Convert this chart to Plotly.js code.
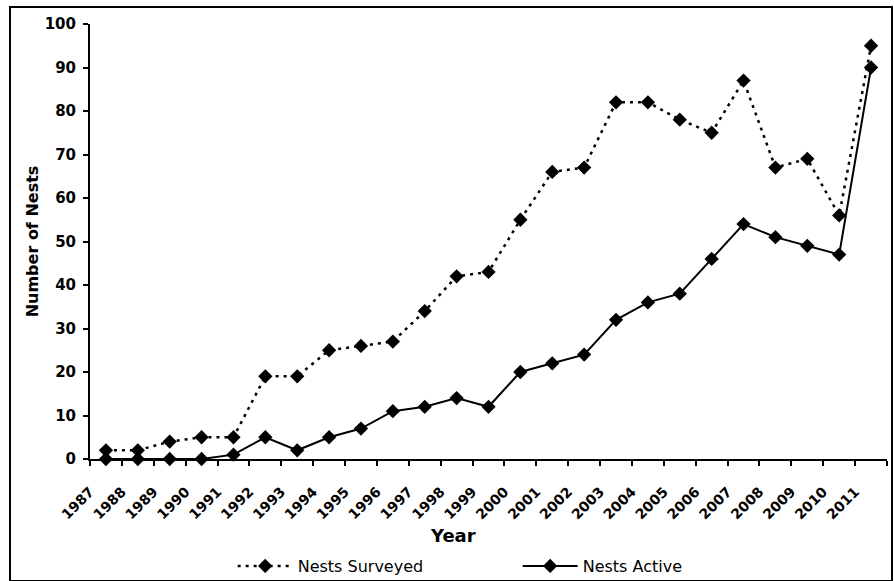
<!DOCTYPE html>
<html>
<head>
<meta charset="utf-8">
<script src="https://cdn.plot.ly/plotly-3.0.1.min.js"></script>
<style>
html,body{margin:0;padding:0;background:#fff;}
#chart{width:894px;height:581px;}
</style>
</head>
<body>
<div id="chart"></div>
<script>
var years = [1987,1988,1989,1990,1991,1992,1993,1994,1995,1996,1997,1998,1999,2000,2001,2002,2003,2004,2005,2006,2007,2008,2009,2010,2011];
var nestsSurveyed = [2,2,4,5,5,19,19,25,26,27,34,42,43,55,66,67,82,82,78,75,87,67,69,56,95];
var nestsActive = [0,0,0,0,1,5,2,5,7,11,12,14,12,20,22,24,32,36,38,46,54,51,49,47,90];
var yTicks = [0,10,20,30,40,50,60,70,80,90,100];

var xRange = [years[0]-0.5, years[years.length-1]+0.5];
var boundaryTicks = years.map(function(y){return y-0.5;}).concat([years[years.length-1]+0.5]);
var labelPos = years.map(function(y){return y-0.5;});
var labelText = years.map(function(y){return String(y);});

var FONT = 'DejaVu Sans, Arial, sans-serif';

var traces = [
  {
    x: years, y: nestsSurveyed, name: 'Nests Surveyed', type: 'scatter', mode: 'lines+markers',
    line: {color: '#000', width: 2.5, dash: '3px,5px'},
    marker: {symbol: 'diamond', size: 11, color: '#000'},
    cliponaxis: false
  },
  {
    x: years, y: nestsActive, name: 'Nests Active', type: 'scatter', mode: 'lines+markers',
    line: {color: '#000', width: 2},
    marker: {symbol: 'diamond', size: 11, color: '#000'},
    cliponaxis: false
  }
];

var layout = {
  width: 894, height: 581,
  margin: {l: 90, r: 7, t: 24, b: 122, autoexpand: false},
  paper_bgcolor: '#fff', plot_bgcolor: '#fff',
  showlegend: true,
  hovermode: false,
  font: {family: FONT, color: '#000'},
  xaxis: {
    type: 'linear', range: xRange, fixedrange: true,
    tickmode: 'array', tickvals: labelPos, ticktext: labelText,
    tickangle: -45, ticks: 'outside', ticklen: 0, tickcolor: 'rgba(0,0,0,0)',
    tickfont: {family: FONT, size: 14, color: '#000', weight: 'bold'},
    ticklabelstandoff: 17,
    minor: {tickmode: 'array', tickvals: boundaryTicks, ticks: 'outside', ticklen: 5, tickwidth: 2, tickcolor: '#000', showgrid: false},
    showline: true, linecolor: '#000', linewidth: 2,
    showgrid: false, zeroline: false
  },
  yaxis: {
    range: [0, 100], fixedrange: true,
    tickmode: 'array', tickvals: yTicks,
    ticks: 'outside', ticklen: 5, tickwidth: 2, tickcolor: '#000',
    showline: true, linecolor: '#000', linewidth: 2,
    showgrid: false, zeroline: false,
    tickfont: {family: FONT, size: 15, color: '#000', weight: 'bold'},
    ticklabelstandoff: 4,
    title: {text: '<b>Number of Nests</b>', font: {family: FONT, size: 16, color: '#000'}, standoff: 2}
  },
  annotations: [
    {text: '<b>Year</b>', xref: 'paper', yref: 'paper', x: (453-90)/797, y: (459-535)/435,
     xanchor: 'center', yanchor: 'middle', showarrow: false,
     font: {family: FONT, size: 18, color: '#000'}}
  ],
  legend: {
    orientation: 'h', x: 0.179, xanchor: 'left', y: (459-566)/435, yanchor: 'middle',
    font: {family: FONT, size: 16, color: '#000'},
    bgcolor: 'rgba(0,0,0,0)', itemwidth: 55,
    entrywidth: 215, entrywidthmode: 'pixels',
    itemclick: false, itemdoubleclick: false
  },
  shapes: [
    {type: 'rect', xref: 'paper', yref: 'paper',
     x0: (10-90)/797, x1: (892-90)/797, y0: (459-581)/435, y1: (459-7)/435,
     line: {color: '#000', width: 2}, fillcolor: 'rgba(0,0,0,0)', layer: 'below'}
  ]
};

Plotly.newPlot('chart', traces, layout, {staticPlot: true, displayModeBar: false});
</script>
</body>
</html>
